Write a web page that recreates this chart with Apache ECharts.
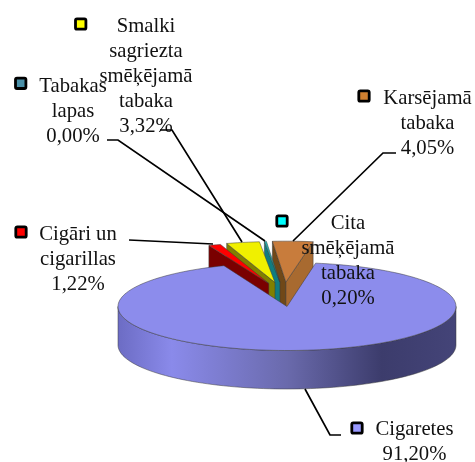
<!DOCTYPE html>
<html>
<head>
<meta charset="utf-8">
<style>
  html, body { margin: 0; padding: 0; background: #fff; }
  #main { width: 475px; height: 462px; }
</style>
<script src="https://cdn.jsdelivr.net/npm/echarts@6/dist/echarts.min.js"></script>
</head>
<body>
<div id="main"></div>
<script>
// slices clockwise, starting at the left edge of the notch in the big pie
const categories = ['Cigāri un\ncigarillas', 'Smalki\nsagriezta\nsmēķējamā\ntabaka', 'Tabakas\nlapas', 'Cita\nsmēķējamā\ntabaka', 'Karsējamā\ntabaka', 'Cigaretes']
const values = [1.22, 3.32, 0.0, 0.2, 4.05, 91.2]
const keyColors = ['#ff0000', '#ffff00', '#4a90a8', '#00ffff', '#d08030', '#9999ff']
const topColors = ['#ff0000', '#f0f000', '#2aa0a8', '#20b8b8', '#c87c3c', '#8c8cec']
const leftWallColors = ['#7a0000', '#808000', '#157a80', '#107c80', '#704818', '#6a6ac0']
const rightWallColors = ['#8a0000', '#a0a000', '#1c8c90', '#108888', '#a86a30', '#6a6ac0']

// layout of the tilted pie
const cx = 287
const cy = 306.5
const rx = 169
const ry = 44
const depth = 38.5
const startAngle = -21.9
const explode = 94
const explodeScaleX = 0.48
const explodeShiftX = -3
const backScaleX = 0.95
const backScaleY = 0.93
const bigSlice = 5

// label centre x, first line centre y, key x, key y
const labelPos = [
  [78, 235, 21, 232],
  [146, 27, 80.7, 24],
  [73, 87, 20.7, 83.3],
  [348, 224, 282, 221],
  [427.5, 99, 364, 96],
  [414.5, 430, 357, 428],
]
const leaders = [
  [[129, 240], [213, 244]],
  [[160, 130], [172, 130], [242, 242]],
  [[107, 140], [118, 140], [265, 241]],
  [],
  [[396, 153], [383, 153], [293, 241]],
  [[305, 389], [330, 435], [341, 435]],
]

const total = values.reduce((a, b) => a + b, 0)
const rad = a => (a * Math.PI) / 180
const percent = v => v.toFixed(2).replace('.', ',') + '%'

// top view angle (0 = back, clockwise) to screen, before any explode shift
function project(a, scaleX, scaleY) {
  return [rx * scaleX * Math.sin(rad(a)), -ry * scaleY * Math.cos(rad(a))]
}

function arcPoints(a0, a1, ox, oy, scaleX, scaleY) {
  const pts = []
  const n = Math.max(2, Math.ceil(Math.abs(a1 - a0) / 2))
  for (let i = 0; i <= n; i++) {
    const p = project(a0 + ((a1 - a0) * i) / n, scaleX, scaleY)
    pts.push([ox + p[0], oy + p[1]])
  }
  return pts
}

function facet(points, fill, z2) {
  return {
    type: 'polygon',
    z2,
    shape: { points },
    style: { fill, stroke: '#3a3a3a', lineWidth: 0.5 },
  }
}

function lowered(p) {
  return [p[0], p[1] + depth]
}

function renderSlice(params, api) {
  const i = params.dataIndex
  const value = api.value(1)
  let from = startAngle
  for (let k = 0; k < i; k++) {
    from += (values[k] / total) * 360
  }
  const to = from + (value / total) * 360
  const children = []

  if (i === bigSlice) {
    const side = arcPoints(90, 270, cx, cy, 1, 1)
    children.push(facet(
      side.concat(side.slice().reverse().map(lowered)),
      new echarts.graphic.LinearGradient(0, 0, 1, 0, [
        { offset: 0, color: '#6c6cc4' },
        { offset: 0.16, color: '#8a8aea' },
        { offset: 0.5, color: '#6a6aac' },
        { offset: 0.78, color: '#3c3c6c' },
        { offset: 1, color: '#444478' },
      ]),
      100
    ))
    children.push(facet([[cx, cy]].concat(arcPoints(from, to, cx, cy, 1, 1)), topColors[i], 101))
  } else if (value > 0) {
    const mid = (from + to) / 2
    const ox = cx + explodeShiftX + explode * explodeScaleX * Math.sin(rad(mid))
    const oy = cy - explode * (ry / rx) * Math.cos(rad(mid))
    const arc = arcPoints(from, to, ox, oy, backScaleX, backScaleY)
    const tip = [ox, oy]
    const first = arc[0]
    const last = arc[arc.length - 1]
    // slices further left sit in front, so the right ones are painted first
    const base = (bigSlice - i) * 3
    // a radial wall only shows when it turns towards the viewer
    if (from < 0) {
      children.push(facet([tip, first, lowered(first), lowered(tip)], leftWallColors[i], base))
    }
    if (to > 0) {
      children.push(facet([tip, last, lowered(last), lowered(tip)], rightWallColors[i], base))
    }
    children.push(facet([tip].concat(arc), topColors[i], base + 1))
  }

  return { type: 'group', children }
}

function renderLabel(params, api) {
  const i = params.dataIndex
  const pos = labelPos[i]
  const lines = categories[i].split('\n').concat(percent(api.value(1)))
  const children = lines.map((line, k) => ({
    type: 'text',
    x: pos[0],
    y: pos[1] + k * 25,
    style: {
      text: line,
      fill: '#111',
      font: '20.7px "Liberation Serif"',
      align: 'center',
      verticalAlign: 'middle',
    },
  }))
  children.push({
    type: 'rect',
    shape: { x: pos[2] - 5.2, y: pos[3] - 5.2, width: 10.4, height: 10.4, r: 1.5 },
    style: { fill: keyColors[i], stroke: '#000', lineWidth: 2.8 },
  })
  if (leaders[i].length) {
    children.push({
      type: 'polyline',
      shape: { points: leaders[i] },
      style: { fill: 'none', stroke: '#000', lineWidth: 1.7 },
    })
  }
  return { type: 'group', children }
}

const chartData = values.map((v, i) => [i, v])

const chart = echarts.init(document.getElementById('main'))
chart.setOption({
  animation: false,
  backgroundColor: '#fff',
  series: [
    {
      type: 'custom',
      coordinateSystem: 'none',
      renderItem: renderSlice,
      data: chartData,
      silent: true,
      z: 1,
    },
    {
      type: 'custom',
      coordinateSystem: 'none',
      renderItem: renderLabel,
      data: chartData,
      silent: true,
      z: 2,
    },
  ],
})
</script>
</body>
</html>
